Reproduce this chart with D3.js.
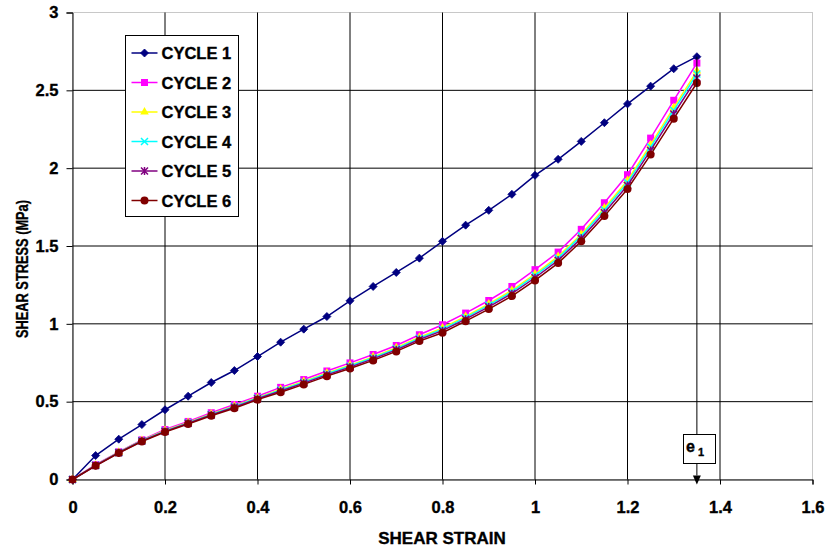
<!DOCTYPE html>
<html><head><meta charset="utf-8">
<script src="https://cdn.jsdelivr.net/npm/d3@7"></script>
<style>body{margin:0;background:#fff}svg{display:block}text{font-family:"Liberation Sans",Arial,sans-serif;font-weight:bold;fill:#000;stroke:#000;stroke-width:0.35px}</style>
</head><body>
<script>
const strain = [0,0.05,0.1,0.15,0.2,0.25,0.3,0.35,0.4,0.45,0.5,0.55,0.6,0.65,0.7,0.75,0.8,0.85,0.9,0.95,1.0,1.05,1.1,1.15,1.2,1.25,1.3,1.35];
const cycle1 = [0,0.154,0.259,0.353,0.448,0.535,0.623,0.700,0.790,0.882,0.966,1.047,1.148,1.240,1.330,1.422,1.530,1.634,1.729,1.832,1.954,2.057,2.172,2.292,2.413,2.527,2.639,2.716];
const cycle2 = [0,0.095,0.178,0.255,0.321,0.373,0.429,0.482,0.535,0.592,0.642,0.697,0.749,0.803,0.861,0.930,0.994,1.069,1.150,1.240,1.348,1.461,1.607,1.778,1.958,2.193,2.436,2.675];
const cycle3 = [0,0.092,0.175,0.251,0.315,0.367,0.421,0.472,0.526,0.580,0.630,0.684,0.735,0.788,0.846,0.914,0.974,1.048,1.128,1.215,1.320,1.433,1.576,1.744,1.921,2.151,2.389,2.624];
const cycle4 = [0,0.091,0.174,0.249,0.312,0.364,0.418,0.469,0.523,0.575,0.625,0.679,0.729,0.782,0.840,0.907,0.966,1.040,1.120,1.206,1.310,1.422,1.565,1.731,1.907,2.135,2.371,2.605];
const cycle5 = [0,0.090,0.172,0.247,0.309,0.361,0.414,0.464,0.519,0.569,0.619,0.672,0.722,0.775,0.833,0.899,0.956,1.030,1.109,1.194,1.296,1.408,1.549,1.713,1.889,2.114,2.348,2.579];
const cycle6 = [0,0.088,0.170,0.244,0.305,0.357,0.409,0.458,0.513,0.561,0.611,0.664,0.713,0.765,0.823,0.889,0.943,1.017,1.095,1.178,1.279,1.390,1.530,1.692,1.866,2.087,2.318,2.547];
const seriesNames = ["CYCLE 1","CYCLE 2","CYCLE 3","CYCLE 4","CYCLE 5","CYCLE 6"];
const seriesColors = ["#000080","#FF00FF","#FFFF00","#00FFFF","#800080","#800000"];
const seriesMarkers = ["diamond","square","triangle","x","star","circle"];
const xTicks = [0,0.2,0.4,0.6,0.8,1,1.2,1.4,1.6];
const yTicks = [0,0.5,1,1.5,2,2.5,3];
const strainE1 = 1.35;

const W=827,H=549;
const svg=d3.select("body").append("svg").attr("width",W).attr("height",H);
const x=d3.scaleLinear().domain([0,1.6]).range([72.5,812.5]);
const y=d3.scaleLinear().domain([0,3]).range([479.5,12.5]);

svg.append("rect").attr("x",x(0)).attr("y",y(3)).attr("width",x(1.6)-x(0)).attr("height",y(0)-y(3))
  .attr("fill","#fff").attr("stroke","#c8c8c8");
svg.append("g").selectAll("line").data(xTicks.filter(d=>d>0&&d<1.6)).join("line")
  .attr("x1",d=>x(d)).attr("x2",d=>x(d)).attr("y1",y(0)).attr("y2",y(3)).attr("stroke","#000");
svg.append("g").selectAll("line").data(yTicks.filter(d=>d>0&&d<3)).join("line")
  .attr("x1",x(0)).attr("x2",x(1.6)).attr("y1",d=>y(d)).attr("y2",d=>y(d)).attr("stroke","#000");

const xAxis=svg.append("g").attr("transform",`translate(0,${y(0)})`)
  .call(d3.axisBottom(x).tickValues(xTicks).tickFormat(d3.format("")).tickSize(5).tickPadding(17));
const yAxis=svg.append("g").attr("transform",`translate(${x(0)},0)`)
  .call(d3.axisLeft(y).tickValues(yTicks).tickFormat(d3.format("")).tickSize(6).tickPadding(8));
[xAxis,yAxis].forEach(a=>{a.select(".domain").attr("stroke","#000");a.selectAll(".tick line").attr("stroke","#000");
  a.selectAll("text").style("font-size","16.5px").style("font-family","'Liberation Sans',Arial,sans-serif").style("font-weight","bold").attr("fill","#000");});
xAxis.selectAll("text").attr("dy","0.71em");

svg.append("text").attr("x",442).attr("y",544).attr("text-anchor","middle").style("font-size","17px").text("SHEAR STRAIN");
svg.append("text").attr("transform","translate(28,269) rotate(-90)").attr("text-anchor","middle").style("font-size","16px")
  .attr("textLength",138).attr("lengthAdjust","spacingAndGlyphs").text("SHEAR STRESS (MPa)");

const allSeries=[cycle1,cycle2,cycle3,cycle4,cycle5,cycle6];
function marker(g,type,color,cx,cy){
  if(type==="diamond") g.append("path").attr("d",`M${cx},${cy-4}L${cx+4},${cy}L${cx},${cy+4}L${cx-4},${cy}Z`).attr("fill",color).attr("stroke",color).attr("stroke-width",0.8);
  else if(type==="square") g.append("rect").attr("x",cx-3.5).attr("y",cy-3.5).attr("width",7).attr("height",7).attr("fill",color);
  else if(type==="triangle") g.append("path").attr("d",d3.symbol(d3.symbolTriangle,32)()).attr("transform",`translate(${cx},${cy})`).attr("fill",color);
  else if(type==="x") g.append("path").attr("d",`M${cx-3.5},${cy-3.5}L${cx+3.5},${cy+3.5}M${cx-3.5},${cy+3.5}L${cx+3.5},${cy-3.5}`).attr("stroke",color).attr("stroke-width",1.5).attr("fill","none");
  else if(type==="star") g.append("path").attr("d",`M${cx-3.5},${cy-3.5}L${cx+3.5},${cy+3.5}M${cx-3.5},${cy+3.5}L${cx+3.5},${cy-3.5}M${cx},${cy-4}L${cx},${cy+4}`).attr("stroke",color).attr("stroke-width",1.5).attr("fill","none");
  else if(type==="circle") g.append("circle").attr("cx",cx).attr("cy",cy).attr("r",4).attr("fill",color);
}
const line=d3.line().x((d,i)=>x(strain[i])).y(d=>y(d));
allSeries.forEach((s,k)=>{
  const g=svg.append("g");
  g.append("path").attr("d",line(s)).attr("fill","none").attr("stroke",seriesColors[k]).attr("stroke-width",1.5);
  s.forEach((v,i)=>marker(g,seriesMarkers[k],seriesColors[k],x(strain[i]),y(v)));
});

const iE=strain.indexOf(strainE1);
svg.append("line").attr("x1",x(strainE1)).attr("x2",x(strainE1)).attr("y1",y(cycle1[iE])).attr("y2",y(0)-4).attr("stroke","#000");
svg.append("path").attr("d",`M${x(strainE1)-4},${y(0)-4}L${x(strainE1)+4},${y(0)-4}L${x(strainE1)},${y(0)+5}Z`).attr("fill","#000");
svg.append("rect").attr("x",683.5).attr("y",434.5).attr("width",32).attr("height",29).attr("fill","#fff").attr("stroke","#000");
const et=svg.append("text").attr("x",686).attr("y",452).style("font-size","16px");
et.append("tspan").text("e");
et.append("tspan").attr("dx",3).attr("dy",4).style("font-size","11px").text("1");

const lg=svg.append("g");
lg.append("rect").attr("x",125.5).attr("y",35.5).attr("width",113).attr("height",181).attr("fill","#fff").attr("stroke","#000");
seriesNames.forEach((n,k)=>{
  const ly=53+k*29.5;
  lg.append("line").attr("x1",131.5).attr("x2",157.5).attr("y1",ly).attr("y2",ly).attr("stroke",seriesColors[k]).attr("stroke-width",1.5);
  marker(lg,seriesMarkers[k],seriesColors[k],144.5,ly);
  lg.append("text").attr("x",161.5).attr("y",ly+6).style("font-size","16.5px").text(n);
});
</script>
</body></html>
